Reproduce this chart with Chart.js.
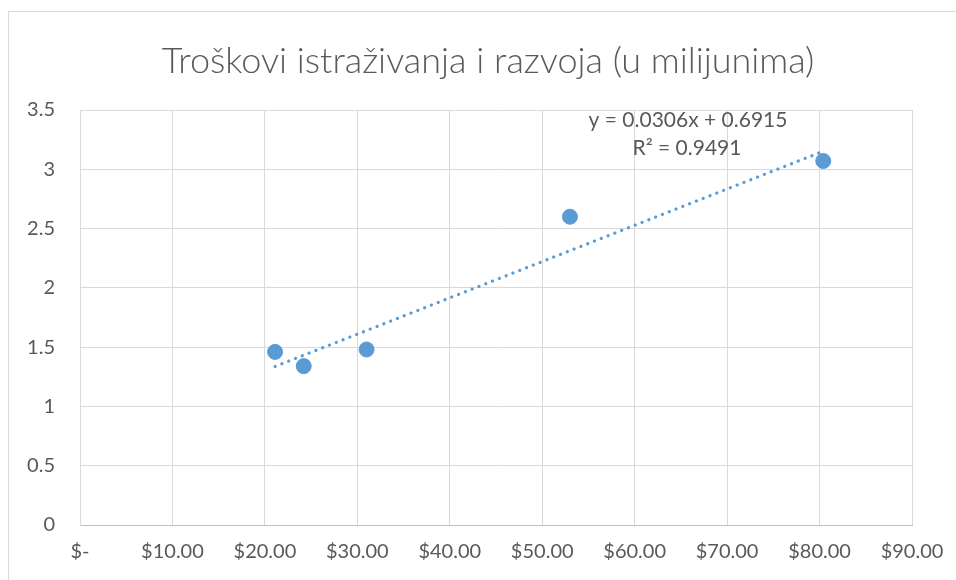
<!DOCTYPE html>
<html>
<head>
<meta charset="utf-8">
<script src="https://cdn.jsdelivr.net/npm/chart.js@4"></script>
<style>
  html, body { margin: 0; padding: 0; background: #fff; }
  #wrap { width: 956px; height: 580px; position: relative; }
</style>
</head>
<body>
<div id="wrap"><canvas id="rd" width="956" height="580"></canvas></div>
<script>
// spending in $ (x) vs R&D cost in millions (y)
const spendX = [21.1, 24.2, 31.0, 53.0, 80.4];
const costY = [1.46, 1.34, 1.48, 2.60, 3.07];
// trendline ends
const trendX = [21.1, 80.4];
const trendY = [1.337, 3.152];
const eqText = 'y = 0.0306x + 0.6915';
const r2Text = 'R² = 0.9491';
const titleText = 'Troškovi istraživanja i razvoja (u milijunima)';

const blue = '#5b9bd5';
const grey = '#595959';
const font = 'Lato, "Open Sans", sans-serif';

const frame = {
  id: 'frame',
  beforeDraw(c) {
    const ctx = c.ctx;
    ctx.save();
    ctx.fillStyle = '#fff';
    ctx.fillRect(0, 0, c.width, c.height);
    ctx.strokeStyle = '#d9d9d9';
    ctx.lineWidth = 1;
    ctx.strokeRect(8.5, 11.5, 1200, 800);
    ctx.restore();
  },
  afterDraw(c) {
    const ctx = c.ctx;
    ctx.save();
    ctx.fillStyle = grey;
    ctx.textAlign = 'center';
    ctx.textBaseline = 'middle';
    ctx.font = '300 36px ' + font;
    ctx.fillText(titleText, 488, 61);
    ctx.font = '21px ' + font;
    ctx.fillText(eqText, 688, 120);
    ctx.fillText(r2Text, 687, 148);
    ctx.restore();
  }
};

new Chart(document.getElementById('rd'), {
  type: 'scatter',
  data: {
    datasets: [
      {
        label: 'Troškovi',
        data: spendX.map((x, i) => ({ x: x, y: costY[i] })),
        backgroundColor: blue,
        borderColor: blue,
        pointRadius: 7.5,
        pointHoverRadius: 7.5
      },
      {
        label: 'Trend',
        type: 'line',
        data: trendX.map((x, i) => ({ x: x, y: trendY[i] })),
        borderColor: blue,
        borderWidth: 3.2,
        borderDash: [0.1, 7.2],
        borderCapStyle: 'round',
        pointRadius: 0,
        fill: false
      }
    ]
  },
  options: {
    responsive: false,
    animation: false,
    layout: { padding: { left: 0, right: 44, top: 110, bottom: 0 } },
    plugins: {
      legend: { display: false },
      tooltip: { enabled: false },
      title: { display: false }
    },
    scales: {
      x: {
        type: 'linear',
        min: 0,
        max: 90,
        afterFit(s) {
          s.height = 55;
          s.paddingLeft = 0;
          s.paddingRight = 0;
        },
        ticks: {
          stepSize: 10,
          padding: 15,
          color: grey,
          font: { family: font, size: 20 },
          callback: v => v === 0 ? '$-' : '$' + v.toFixed(2)
        },
        grid: { color: '#d9d9d9', drawTicks: false },
        border: { color: '#bfbfbf' }
      },
      y: {
        min: 0,
        max: 3.5,
        afterFit(s) {
          s.width = 80;
          s.paddingTop = 0;
          s.paddingBottom = 0;
        },
        ticks: {
          stepSize: 0.5,
          padding: 25,
          color: grey,
          font: { family: font, size: 20 },
          callback: v => String(v)
        },
        grid: { color: '#d9d9d9', drawTicks: false },
        border: { color: '#d9d9d9' }
      }
    }
  },
  plugins: [frame]
});
</script>
</body>
</html>
